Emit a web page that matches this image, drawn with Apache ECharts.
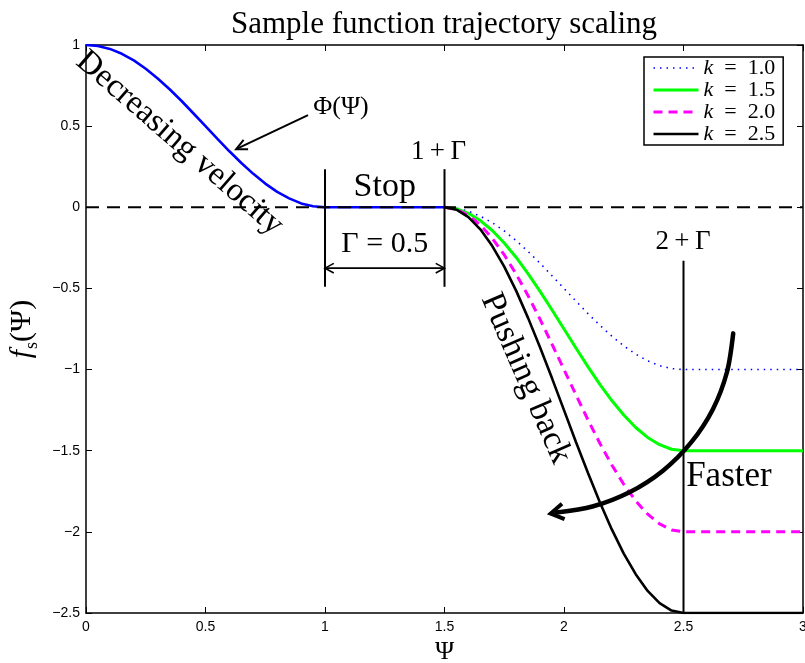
<!DOCTYPE html>
<html>
<head>
<meta charset="utf-8">
<script src="https://cdn.jsdelivr.net/npm/echarts@6/dist/echarts.min.js"></script>
<style>
html,body{margin:0;padding:0;background:#fff;overflow:hidden;}
#chart{width:805px;height:663px;}
</style>
</head>
<body>
<div id="chart"></div>
<script>
// ---- data ----
const psiPhi = [0,0.05,0.1,0.15,0.2,0.25,0.3,0.35,0.4,0.45,0.5,0.55,0.6,0.65,0.7,0.75,0.8,0.85,0.9,0.95,1.0,1.5];
const phiVals = [1,0.994,0.976,0.946,0.905,0.854,0.794,0.727,0.655,0.578,0.5,0.422,0.345,0.273,0.206,0.146,0.095,0.055,0.024,0.006,0,0];

const psiK = [1.5,1.55,1.6,1.65,1.7,1.75,1.8,1.85,1.9,1.95,2.0,2.05,2.1,2.15,2.2,2.25,2.3,2.35,2.4,2.45,2.5,3.0];
const k10 = [0,-0.006,-0.024,-0.055,-0.095,-0.146,-0.206,-0.273,-0.345,-0.422,-0.5,-0.578,-0.655,-0.727,-0.794,-0.854,-0.905,-0.946,-0.976,-0.994,-1,-1];
const k15 = [0,-0.009,-0.037,-0.082,-0.143,-0.220,-0.309,-0.410,-0.518,-0.633,-0.75,-0.867,-0.982,-1.091,-1.191,-1.280,-1.357,-1.418,-1.463,-1.491,-1.5,-1.5];
const k20 = [0,-0.012,-0.049,-0.109,-0.191,-0.293,-0.412,-0.546,-0.691,-0.844,-1.0,-1.156,-1.309,-1.454,-1.588,-1.707,-1.809,-1.891,-1.951,-1.988,-2,-2];
const k25 = [0,-0.015,-0.061,-0.136,-0.239,-0.366,-0.515,-0.683,-0.864,-1.054,-1.25,-1.446,-1.636,-1.817,-1.985,-2.134,-2.261,-2.364,-2.439,-2.485,-2.5,-2.5];

const seriesNames = ['k = 1.0','k = 1.5','k = 2.0','k = 2.5'];

const xTicks = [0,0.5,1,1.5,2,2.5,3];
const yTicks = [-2.5,-2,-1.5,-1,-0.5,0,0.5,1];

// reference lines
const zeroLineX = [0,3];
const markerX = [1,1.5,2.5];
const markerTop = [0.235,0.235,-0.33];
const markerBottom = [-0.49,-0.49,-2.5];

// "Faster" arc
const fasterArcX = [2.708,2.682,2.623,2.532,2.414,2.274,2.119,1.969];
const fasterArcY = [-0.777,-1.015,-1.244,-1.449,-1.623,-1.756,-1.844,-1.881];

// ---- chart ----
const zip = (xs, ys) => xs.map((x,i)=>[x, ys[i]]);
const SERIF = '"Liberation Serif", "DejaVu Serif", serif';
const SANS = '"Liberation Sans", Arial, sans-serif';
const fmt = v => String(v).replace('-', '\u2212');

const chart = echarts.init(document.getElementById('chart'), null, {renderer:'canvas'});

function arrowHead(tip, from, len, ang, lw) {
  const dx = tip[0]-from[0], dy = tip[1]-from[1];
  const L = Math.sqrt(dx*dx+dy*dy); const ux = dx/L, uy = dy/L;
  const c = Math.cos(ang), s = Math.sin(ang);
  const b1 = [tip[0] - len*(ux*c - uy*s), tip[1] - len*(uy*c + ux*s)];
  const b2 = [tip[0] - len*(ux*c + uy*s), tip[1] - len*(uy*c - ux*s)];
  return {type:'polyline', shape:{points:[b1, tip, b2]}, style:{stroke:'#000', lineWidth:lw, fill:null, lineJoin:'miter'}};
}

function txt(p, text, size, rot, extra) {
  return {type:'text', x:p[0], y:p[1], rotation: rot||0,
    style: Object.assign({text:text, fill:'#000', fontSize:size, fontFamily:SERIF, align:'center', verticalAlign:'middle'}, extra||{})};
}

function renderAnnotations(params, api) {
  const c = (x,y) => api.coord([x,y]);
  const ch = [];
  // Phi arrow
  const pa0 = c(0.929,0.568), pa1 = c(0.628,0.358);
  ch.push({type:'line', shape:{x1:pa0[0],y1:pa0[1],x2:pa1[0],y2:pa1[1]}, style:{stroke:'#000', lineWidth:2}});
  ch.push(arrowHead(pa1, pa0, 12, 0.45, 2));
  // Gamma double arrow
  const g0 = c(1,-0.375), g1 = c(1.5,-0.375);
  ch.push({type:'line', shape:{x1:g0[0],y1:g0[1],x2:g1[0],y2:g1[1]}, style:{stroke:'#000', lineWidth:1.6}});
  ch.push(arrowHead(g0, g1, 10, 0.5, 1.6));
  ch.push(arrowHead(g1, g0, 10, 0.5, 1.6));
  // Faster arc
  const pts = fasterArcX.map((x,i)=>c(x, fasterArcY[i]));
  ch.push({type:'polyline', shape:{points:pts, smooth:0.3}, style:{stroke:'#000', lineWidth:4.5, fill:null, lineCap:'round'}});
  const last = pts[pts.length-1], prev = pts[pts.length-2];
  const d = Math.hypot(last[0]-prev[0], last[1]-prev[1]);
  const tip = [last[0] + 6*(last[0]-prev[0])/d, last[1] + 6*(last[1]-prev[1])/d];
  ch.push(arrowHead(tip, last, 15, 0.55, 4));
  // texts
  ch.push(txt(c(1.25,0.125), 'Stop', 34));
  ch.push(txt(c(1.25,-0.225), '\u0393 = 0.5', 30));
  ch.push(txt(c(1.475,0.34), '1\u2009+\u2009\u0393', 27));
  ch.push(txt(c(2.498,-0.215), '2\u2009+\u2009\u0393', 27));
  ch.push(txt(c(1.067,0.615), '\u03A6(\u03A8)', 26));
  ch.push(txt(c(2.69,-1.66), 'Faster', 35));
  ch.push(txt(c(0.392,0.395), 'Decreasing velocity', 33, -0.716));
  ch.push(txt(c(1.84,-1.055), 'Pushing back', 34, -1.16));
  return {type:'group', children: ch};
}

const lineBase = {type:'line', symbol:'none', showSymbol:false, silent:true, animation:false};

const option = {
  animation: false,
  backgroundColor: '#fff',
  title: {
    text: 'Sample function trajectory scaling',
    left: 439, top: 4, textAlign: 'center',
    textStyle: {fontFamily: SERIF, fontWeight: 'normal', fontSize: 31, color:'#000'}
  },
  legend: {
    data: seriesNames,
    orient: 'vertical',
    left: 644, top: 57,
    padding: [0, 8, 0, 8],
    itemGap: 0, itemWidth: 45, itemHeight: 20,
    backgroundColor: '#fff', borderColor: '#000', borderWidth: 1.5, borderRadius: 0,
    selectedMode: false,
    itemStyle: {opacity: 0},
    lineStyle: {width: 'inherit'},
    formatter: n => '{i|k}{n|\u2002=\u2002' + n.slice(4) + '}',
    textStyle: {fontFamily: SERIF, fontSize: 20, color:'#000', lineHeight: 20,
      rich: {
        i: {fontFamily: SERIF, fontSize: 22, fontStyle:'italic', color:'#000', lineHeight:20},
        n: {fontFamily: SERIF, fontSize: 22, color:'#000', lineHeight:20}
      }}
  },
  grid: {left: 86, right: 2, top: 45, bottom: 50, containLabel: false, outerBoundsMode: 'none'},
  xAxis: [{
    type:'value', min: xTicks[0], max: xTicks[xTicks.length-1], interval: 0.5,
    name: '\u03A8', nameLocation:'middle', nameGap: 22,
    nameTextStyle: {fontFamily: SERIF, fontSize: 26, color:'#000', verticalAlign:'top'},
    axisLine: {show:true, onZero:false, lineStyle:{color:'#000', width:1.5}},
    axisTick: {show:true, inside:true, length:6, lineStyle:{color:'#000', width:1}},
    axisLabel: {color:'#000', fontFamily: SANS, fontSize:14, margin:7, formatter: fmt},
    splitLine: {show:false}
  },{
    type:'value', position:'top', min: xTicks[0], max: xTicks[xTicks.length-1], interval: 0.5,
    axisLine: {show:true, onZero:false, lineStyle:{color:'#000', width:1.5}},
    axisTick: {show:true, inside:true, length:6, lineStyle:{color:'#000', width:1}},
    axisLabel: {show:false}, splitLine:{show:false}
  }],
  yAxis: [{
    type:'value', min: yTicks[0], max: yTicks[yTicks.length-1], interval: 0.5,
    name: '{f|f}{s|s}{p|(\u03A8)}', nameLocation:'middle', nameRotate: 90, nameGap: 28,
    nameTextStyle: {color:'#000', rich: {
      f: {fontFamily: SERIF, fontSize: 30, fontStyle:'italic', color:'#000', verticalAlign:'top', lineHeight: 32},
      s: {fontFamily: SERIF, fontSize: 18, color:'#000', verticalAlign:'top', lineHeight: 18, padding:[16,0,0,1]},
      p: {fontFamily: SERIF, fontSize: 30, color:'#000', verticalAlign:'top', lineHeight: 32}
    }},
    axisLine: {show:true, onZero:false, lineStyle:{color:'#000', width:1.5}},
    axisTick: {show:true, inside:true, length:6, lineStyle:{color:'#000', width:1}},
    axisLabel: {color:'#000', fontFamily: SANS, fontSize:14, margin:6, formatter: fmt},
    splitLine: {show:false}
  },{
    type:'value', position:'right', min: yTicks[0], max: yTicks[yTicks.length-1], interval: 0.5,
    axisLine: {show:true, onZero:false, lineStyle:{color:'#000', width:1.5}},
    axisTick: {show:true, inside:true, length:6, lineStyle:{color:'#000', width:1}},
    axisLabel: {show:false}, splitLine:{show:false}
  }],
  series: [
    Object.assign({}, lineBase, {name:'Phi', data: zip(psiPhi, phiVals), z: 3,
      lineStyle:{color:'#0000ff', width:2.6}}),
    Object.assign({}, lineBase, {name:'zero', data: zip(zeroLineX, [0,0]), z: 4,
      lineStyle:{color:'#000', width:2, type:[13,8]}}),
    Object.assign({}, lineBase, {name: seriesNames[0], data: zip(psiK, k10), z: 3,
      itemStyle:{color:'#0000ff'}, lineStyle:{color:'#0000ff', width:1.6, type:[1.5,5]}}),
    Object.assign({}, lineBase, {name: seriesNames[1], data: zip(psiK, k15), z: 3,
      itemStyle:{color:'#00ff00'}, lineStyle:{color:'#00ff00', width:3}}),
    Object.assign({}, lineBase, {name: seriesNames[2], data: zip(psiK, k20), z: 3,
      itemStyle:{color:'#ff00ff'}, lineStyle:{color:'#ff00ff', width:3, type:[9,6]}}),
    Object.assign({}, lineBase, {name: seriesNames[3], data: zip(psiK, k25), z: 3,
      itemStyle:{color:'#000'}, lineStyle:{color:'#000', width:2.6}}),
  ].concat(markerX.map((x,i)=>Object.assign({}, lineBase, {name:'marker'+i,
      data: [[x, markerTop[i]],[x, markerBottom[i]]], z: 5,
      lineStyle:{color:'#000', width:2}}))).concat([{
    type:'custom', name:'annotations', silent:true, z: 6, clip:false,
    data: [[0,0]], renderItem: renderAnnotations
  }])
};
chart.setOption(option);
</script>
</body>
</html>
